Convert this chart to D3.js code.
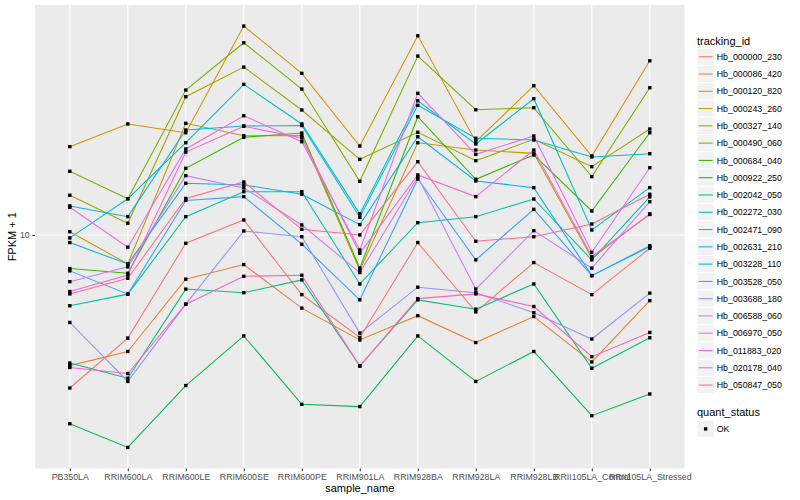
<!DOCTYPE html>
<html>
<head>
<meta charset="utf-8">
<script src="https://cdn.jsdelivr.net/npm/d3@7"></script>
<style>
  html, body { margin: 0; padding: 0; background: #ffffff; }
  svg { display: block; font-family: "Liberation Sans", Arial, Helvetica, sans-serif; }
</style>
</head>
<body>
<svg id="chart" width="800" height="500"></svg>
<script>
// ---- data ----
const sampleNames = ["PB350LA", "RRIM600LA", "RRIM600LE", "RRIM600SE", "RRIM600PE", "RRIM901LA",
  "RRIM928BA", "RRIM928LA", "RRIM928LB", "RRII105LA_Control", "RRII105LA_Stressed"];

const trackingIds = ["Hb_000000_230", "Hb_000086_420", "Hb_000120_820", "Hb_000243_260", "Hb_000327_140",
  "Hb_000490_060", "Hb_000684_040", "Hb_000922_250", "Hb_002042_050", "Hb_002272_030", "Hb_002471_090",
  "Hb_002631_210", "Hb_003228_110", "Hb_003528_050", "Hb_003688_180", "Hb_006588_060", "Hb_006970_050",
  "Hb_011883_020", "Hb_020178_040", "Hb_050847_050"];

const seriesColors = ["#F8766D", "#EA8331", "#D89000", "#C09B00", "#A3A500", "#7CAE00", "#39B600", "#00BB4E",
  "#00BF7D", "#00C1A3", "#00BFC4", "#00BAE0", "#00B0F6", "#35A2FF", "#9590FF", "#C77CFF", "#E76BF3",
  "#FA62DB", "#FF62BC", "#FF6C91"];

// FPKM + 1 per sample (order of sampleNames)
const hb_000000_230 = [4.14, 5.52, 9.53, 10.90, 7.09, 5.54, 9.57, 6.42, 8.53, 7.09, 9.26];
const hb_000086_420 = [4.71, 5.11, 7.75, 8.43, 6.56, 5.46, 6.28, 5.38, 6.25, 4.81, 6.85];
const hb_000120_820 = [16.63, 18.95, 18.02, 33.31, 25.37, 16.69, 31.50, 17.11, 23.62, 15.76, 27.27];
const hb_000243_260 = [10.19, 8.46, 19.02, 17.71, 17.73, 8.15, 17.01, 16.31, 16.00, 8.75, 11.29];
const hb_000327_140 = [12.57, 10.70, 22.17, 26.30, 20.54, 15.46, 18.06, 15.34, 17.35, 14.82, 18.41];
const hb_000490_060 = [14.43, 12.32, 23.04, 30.25, 23.17, 13.62, 28.02, 20.57, 20.81, 13.99, 23.35];
const hb_000684_040 = [8.24, 8.02, 14.68, 17.55, 17.99, 8.26, 19.76, 13.78, 15.85, 11.48, 18.02];
const hb_000922_250 = [3.37, 2.94, 4.20, 5.59, 3.77, 3.72, 5.59, 4.30, 5.11, 3.53, 4.00];
const hb_002042_050 = [4.78, 4.38, 7.32, 7.17, 7.72, 4.70, 6.88, 6.52, 7.54, 4.64, 5.53];
const hb_002272_030 = [6.65, 7.11, 11.11, 12.83, 12.83, 7.54, 10.73, 11.11, 12.30, 8.66, 12.45];
const hb_002471_090 = [9.83, 12.32, 17.01, 23.81, 18.95, 11.29, 21.67, 16.89, 21.92, 10.29, 13.13];
const hb_002631_210 = [11.82, 11.11, 18.30, 18.73, 18.78, 11.07, 21.10, 17.45, 17.28, 15.67, 15.97];
const hb_003228_110 = [9.57, 8.46, 13.47, 13.34, 12.64, 10.61, 17.61, 13.65, 13.13, 7.91, 9.35];
const hb_003528_050 = [8.13, 7.11, 12.20, 12.47, 9.48, 6.88, 13.80, 8.66, 11.59, 7.91, 9.40];
const hb_003688_180 = [6.04, 4.30, 6.71, 10.23, 9.90, 5.68, 7.40, 7.17, 6.39, 5.49, 7.15];
const hb_006588_060 = [7.64, 8.32, 14.07, 13.11, 10.59, 8.05, 13.96, 7.32, 10.25, 8.26, 12.11];
const hb_006970_050 = [11.73, 9.32, 16.41, 19.87, 17.11, 9.17, 22.61, 15.91, 17.68, 9.05, 14.73];
const hb_011883_020 = [7.22, 7.94, 16.12, 18.70, 17.48, 9.00, 14.13, 12.47, 16.31, 8.83, 11.25];
const hb_020178_040 = [4.66, 4.50, 6.71, 7.88, 7.93, 4.70, 6.93, 7.12, 6.62, 4.96, 5.70];
const hb_050847_050 = [7.12, 7.79, 12.34, 13.57, 10.33, 10.00, 15.25, 9.64, 9.90, 10.65, 12.64];

const yTickValues = [10];
const yTickLabels = ["10"];
const quantStatus = ["OK"];

const seriesValues = [hb_000000_230, hb_000086_420, hb_000120_820, hb_000243_260, hb_000327_140,
  hb_000490_060, hb_000684_040, hb_000922_250, hb_002042_050, hb_002272_030, hb_002471_090,
  hb_002631_210, hb_003228_110, hb_003528_050, hb_003688_180, hb_006588_060, hb_006970_050,
  hb_011883_020, hb_020178_040, hb_050847_050];

const series = trackingIds.map((id, i) => ({
  id, color: seriesColors[i],
  values: sampleNames.map((s, j) => ({ sample: s, value: seriesValues[i][j] }))
}));

// ---- layout ----
const svg = d3.select("#chart");
const panel = { left: 35, right: 684.6, top: 5, bottom: 468.5 };

const x = d3.scalePoint().domain(sampleNames).range([panel.left, panel.right]).padding(0.6);

const allVals = seriesValues.flat();
const lmin = Math.log10(d3.min(allVals)), lmax = Math.log10(d3.max(allVals));
const ex = (lmax - lmin) * 0.05;
const y = d3.scaleLog().domain([Math.pow(10, lmin - ex), Math.pow(10, lmax + ex)])
  .range([panel.bottom, panel.top]);

// panel background
svg.append("rect")
  .attr("x", panel.left).attr("y", panel.top)
  .attr("width", panel.right - panel.left).attr("height", panel.bottom - panel.top)
  .attr("fill", "#EBEBEB");

// grid
const grid = svg.append("g");
grid.selectAll("line.vx").data(sampleNames).enter().append("line")
  .attr("x1", d => x(d)).attr("x2", d => x(d))
  .attr("y1", panel.top).attr("y2", panel.bottom)
  .attr("stroke", "#ffffff").attr("stroke-width", 1.07);
grid.selectAll("line.hy").data(yTickValues).enter().append("line")
  .attr("x1", panel.left).attr("x2", panel.right)
  .attr("y1", d => y(d)).attr("y2", d => y(d))
  .attr("stroke", "#ffffff").attr("stroke-width", 1.07);

// axes
const xAxis = d3.axisBottom(x).tickSize(2.75).tickPadding(3);
const gx = svg.append("g").attr("transform", `translate(0,${panel.bottom})`).call(xAxis);
gx.select(".domain").remove();
gx.selectAll(".tick line").attr("stroke", "#333333").attr("stroke-width", 1.07);
gx.selectAll(".tick text").attr("fill", "#4D4D4D").attr("font-size", 8.8)
  .attr("font-family", "'Liberation Sans', Arial, sans-serif");

const yAxis = d3.axisLeft(y).tickValues(yTickValues).tickFormat((d, i) => yTickLabels[i])
  .tickSize(2.75).tickPadding(2.5);
const gy = svg.append("g").attr("transform", `translate(${panel.left},0)`).call(yAxis);
gy.select(".domain").remove();
gy.selectAll(".tick line").attr("stroke", "#333333").attr("stroke-width", 1.07);
gy.selectAll(".tick text").attr("fill", "#4D4D4D").attr("font-size", 8.8)
  .attr("font-family", "'Liberation Sans', Arial, sans-serif");

// axis titles
svg.append("text")
  .attr("x", (panel.left + panel.right) / 2).attr("y", 492)
  .attr("text-anchor", "middle").attr("font-size", 11).attr("fill", "#000")
  .text("sample_name");
svg.append("text")
  .attr("transform", `translate(16,${(panel.top + panel.bottom) / 2}) rotate(-90)`)
  .attr("text-anchor", "middle").attr("font-size", 11).attr("fill", "#000")
  .text("FPKM + 1");

// lines
const line = d3.line().x(d => x(d.sample)).y(d => y(d.value));
svg.append("g").selectAll("path").data(series).enter().append("path")
  .attr("d", d => line(d.values))
  .attr("fill", "none").attr("stroke", d => d.color).attr("stroke-width", 1.07);

// points
const pts = series.flatMap(s => s.values);
svg.append("g").selectAll("rect").data(pts).enter().append("rect")
  .attr("x", d => x(d.sample) - 1.7).attr("y", d => y(d.value) - 1.7)
  .attr("width", 3.4).attr("height", 3.4).attr("fill", "#000");

// legend
const lg = svg.append("g");
const keyX = 697, keySize = 17.28, firstKeyTop = 48.1;
lg.append("text").attr("x", keyX).attr("y", 44.5).attr("font-size", 11).attr("fill", "#000")
  .text("tracking_id");
const keys = lg.selectAll("g.key").data(series).enter().append("g")
  .attr("transform", (d, i) => `translate(${keyX},${firstKeyTop + i * keySize})`);
keys.append("rect").attr("width", keySize).attr("height", keySize)
  .attr("fill", "#F2F2F2").attr("stroke", "#ffffff").attr("stroke-width", 1);
keys.append("line").attr("x1", 1.7).attr("x2", keySize - 1.7)
  .attr("y1", keySize / 2).attr("y2", keySize / 2)
  .attr("stroke", d => d.color).attr("stroke-width", 1.07);
keys.append("text").attr("x", keySize + 2.5).attr("y", keySize / 2 + 3.2)
  .attr("font-size", 8.8).attr("fill", "#000").text(d => d.id);

lg.append("text").attr("x", keyX).attr("y", 416).attr("font-size", 11).attr("fill", "#000")
  .text("quant_status");
const qk = lg.selectAll("g.qkey").data(quantStatus).enter().append("g")
  .attr("transform", (d, i) => `translate(${keyX},${420.3 + i * keySize})`);
qk.append("rect").attr("width", keySize).attr("height", keySize)
  .attr("fill", "#F2F2F2").attr("stroke", "#ffffff").attr("stroke-width", 1);
qk.append("rect").attr("x", keySize / 2 - 1.7).attr("y", keySize / 2 - 1.7)
  .attr("width", 3.4).attr("height", 3.4).attr("fill", "#000");
qk.append("text").attr("x", keySize + 2.5).attr("y", keySize / 2 + 3.2)
  .attr("font-size", 8.8).attr("fill", "#000").text(d => d);
</script>
</body>
</html>
